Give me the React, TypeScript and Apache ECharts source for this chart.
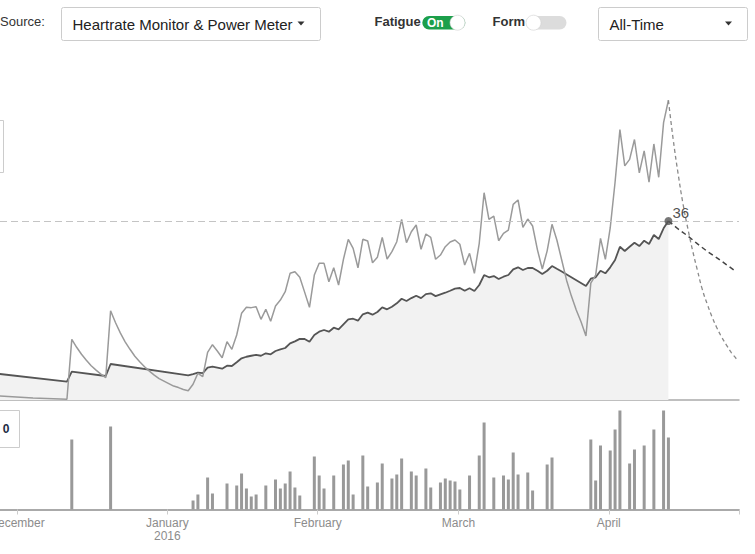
import React, { useEffect, useRef } from "react";
import * as echarts from "echarts";

// ---- data ----
const fitness: [string, number][] = [
  ["2015-11-27", 5.25], ["2015-12-11", 3.68], ["2015-12-12", 5.69], ["2015-12-19", 4.83],
  ["2015-12-20", 7.24], ["2016-01-05", 4.97], ["2016-01-06", 5.2], ["2016-01-07", 5.49],
  ["2016-01-08", 5.4], ["2016-01-09", 6.5], ["2016-01-10", 6.7], ["2016-01-11", 6.5],
  ["2016-01-12", 6.3], ["2016-01-13", 6.9], ["2016-01-14", 6.84], ["2016-01-15", 7.6],
  ["2016-01-16", 8.39], ["2016-01-17", 8.7], ["2016-01-18", 8.9], ["2016-01-19", 9.1],
  ["2016-01-20", 8.9], ["2016-01-21", 9.4], ["2016-01-22", 9.2], ["2016-01-23", 9.86],
  ["2016-01-24", 10.2], ["2016-01-25", 10.46], ["2016-01-26", 11.4], ["2016-01-27", 11.8],
  ["2016-01-28", 12.3], ["2016-01-29", 12.27], ["2016-01-30", 11.7], ["2016-01-31", 13.07],
  ["2016-02-01", 13.74], ["2016-02-02", 14.08], ["2016-02-03", 13.74], ["2016-02-04", 14.54],
  ["2016-02-05", 14.22], ["2016-02-06", 15.23], ["2016-02-07", 16.23], ["2016-02-08", 16.35],
  ["2016-02-09", 15.95], ["2016-02-10", 17.24], ["2016-02-11", 17.56], ["2016-02-12", 17.16],
  ["2016-02-13", 17.7], ["2016-02-14", 18.64], ["2016-02-15", 18.24], ["2016-02-16", 18.77],
  ["2016-02-17", 19.45], ["2016-02-18", 20.37], ["2016-02-19", 19.91], ["2016-02-20", 20.5],
  ["2016-02-21", 20.98], ["2016-02-22", 20.5], ["2016-02-23", 21.3], ["2016-02-24", 21.46],
  ["2016-02-25", 20.9], ["2016-02-26", 21.26], ["2016-02-27", 21.58], ["2016-02-28", 21.98],
  ["2016-02-29", 22.39], ["2016-03-01", 22.53], ["2016-03-02", 21.98], ["2016-03-03", 22.47],
  ["2016-03-04", 21.92], ["2016-03-05", 23.13], ["2016-03-06", 25.14], ["2016-03-07", 24.68],
  ["2016-03-08", 24.94], ["2016-03-09", 24.34], ["2016-03-10", 24.8], ["2016-03-11", 25.14],
  ["2016-03-12", 26.29], ["2016-03-13", 26.69], ["2016-03-14", 26.15], ["2016-03-15", 26.55],
  ["2016-03-16", 26.55], ["2016-03-17", 26.0], ["2016-03-18", 25.34], ["2016-03-19", 26.0],
  ["2016-03-20", 26.95], ["2016-03-21", 26.39], ["2016-03-22", 25.84], ["2016-03-27", 22.93],
  ["2016-03-28", 24.4], ["2016-03-29", 24.68], ["2016-03-30", 26.0], ["2016-03-31", 25.48],
  ["2016-04-01", 26.69], ["2016-04-02", 28.16], ["2016-04-03", 30.83], ["2016-04-04", 29.97],
  ["2016-04-05", 30.83], ["2016-04-06", 31.64], ["2016-04-07", 30.97], ["2016-04-08", 32.04],
  ["2016-04-09", 31.38], ["2016-04-10", 33.19], ["2016-04-11", 32.38], ["2016-04-12", 34.53],
  ["2016-04-13", 36.0],
];

const fatigue: [string, number][] = [
  ["2015-11-27", 0.8], ["2015-12-04", 0.4], ["2015-12-11", 0.14], ["2015-12-12", 12.2],
  ["2015-12-13", 10.6], ["2015-12-14", 9.2], ["2015-12-15", 8.0], ["2015-12-16", 6.9],
  ["2015-12-17", 6.0], ["2015-12-18", 5.2], ["2015-12-19", 4.49], ["2015-12-20", 17.96],
  ["2015-12-21", 15.6], ["2015-12-22", 13.5], ["2015-12-23", 11.7], ["2015-12-24", 10.2],
  ["2015-12-25", 8.8], ["2015-12-26", 7.7], ["2015-12-27", 6.7], ["2015-12-28", 5.8],
  ["2015-12-29", 5.0], ["2015-12-30", 4.3], ["2015-12-31", 3.8], ["2016-01-01", 3.3],
  ["2016-01-02", 2.8], ["2016-01-03", 2.5], ["2016-01-04", 2.1], ["2016-01-05", 1.85],
  ["2016-01-06", 3.16], ["2016-01-07", 5.37], ["2016-01-08", 4.69], ["2016-01-09", 9.59],
  ["2016-01-10", 11.12], ["2016-01-11", 9.86], ["2016-01-12", 8.51], ["2016-01-13", 11.73],
  ["2016-01-14", 10.2], ["2016-01-15", 13.07], ["2016-01-16", 17.44], ["2016-01-17", 18.64],
  ["2016-01-18", 18.58], ["2016-01-19", 18.77], ["2016-01-20", 16.23], ["2016-01-21", 18.24],
  ["2016-01-22", 15.83], ["2016-01-23", 18.9], ["2016-01-24", 20.11], ["2016-01-25", 21.78],
  ["2016-01-26", 25.48], ["2016-01-27", 25.8], ["2016-01-28", 24.68], ["2016-01-29", 21.7],
  ["2016-01-30", 18.64], ["2016-01-31", 25.14], ["2016-02-01", 27.49], ["2016-02-02", 27.49],
  ["2016-02-03", 23.79], ["2016-02-04", 26.6], ["2016-02-05", 23.13], ["2016-02-06", 28.3],
  ["2016-02-07", 32.32], ["2016-02-08", 30.51], ["2016-02-09", 26.6], ["2016-02-10", 32.32],
  ["2016-02-11", 31.98], ["2016-02-12", 27.61], ["2016-02-13", 28.7], ["2016-02-14", 32.72],
  ["2016-02-15", 28.36], ["2016-02-16", 29.83], ["2016-02-17", 31.84], ["2016-02-18", 36.34],
  ["2016-02-19", 31.64], ["2016-02-20", 33.85], ["2016-02-21", 35.2], ["2016-02-22", 30.31],
  ["2016-02-23", 33.39], ["2016-02-24", 32.72], ["2016-02-25", 28.3], ["2016-02-26", 29.16],
  ["2016-02-27", 30.83], ["2016-02-28", 31.78], ["2016-02-29", 32.18], ["2016-03-01", 31.32],
  ["2016-03-02", 27.15], ["2016-03-03", 29.5], ["2016-03-04", 25.48], ["2016-03-05", 31.52],
  ["2016-03-06", 41.69], ["2016-03-07", 36.34], ["2016-03-08", 37.0], ["2016-03-09", 32.04],
  ["2016-03-10", 33.53], ["2016-03-11", 34.19], ["2016-03-12", 39.36], ["2016-03-13", 40.23],
  ["2016-03-14", 34.73], ["2016-03-15", 36.4], ["2016-03-16", 35.0], ["2016-03-17", 30.2],
  ["2016-03-18", 26.35], ["2016-03-19", 30.0], ["2016-03-20", 35.34], ["2016-03-21", 32.18],
  ["2016-03-22", 28.16], ["2016-03-23", 24.1], ["2016-03-24", 20.9], ["2016-03-25", 18.1],
  ["2016-03-26", 15.7], ["2016-03-27", 12.87], ["2016-03-28", 23.5], ["2016-03-29", 25.1],
  ["2016-03-30", 32.5], ["2016-03-31", 28.3], ["2016-04-01", 34.6], ["2016-04-02", 43.8],
  ["2016-04-03", 54.4], ["2016-04-04", 47.1], ["2016-04-05", 48.4], ["2016-04-06", 52.4],
  ["2016-04-07", 45.7], ["2016-04-08", 50.1], ["2016-04-09", 43.8], ["2016-04-10", 51.5],
  ["2016-04-11", 44.8], ["2016-04-12", 55.8], ["2016-04-13", 60.3],
];

const fatigueProjection: [string, number][] = [
  ["2016-04-13", 60.3], ["2016-04-14", 52.3], ["2016-04-15", 45.5], ["2016-04-16", 39.5],
  ["2016-04-17", 34.5], ["2016-04-18", 30.0], ["2016-04-19", 26.0], ["2016-04-20", 22.2],
  ["2016-04-21", 19.3], ["2016-04-22", 16.7], ["2016-04-23", 14.5], ["2016-04-24", 12.6],
  ["2016-04-25", 11.0], ["2016-04-26", 9.5], ["2016-04-27", 8.3],
];

const fitnessProjection: [string, number][] = [
  ["2016-04-13", 36.0], ["2016-04-15", 34.4], ["2016-04-17", 33.0], ["2016-04-19", 31.4],
  ["2016-04-21", 29.9], ["2016-04-23", 28.6], ["2016-04-25", 27.2], ["2016-04-27", 25.8],
];

const trainingLoad: [string, number][] = [
  ["2015-12-12", 70], ["2015-12-20", 83], ["2016-01-06", 9], ["2016-01-07", 15],
  ["2016-01-09", 32], ["2016-01-10", 16], ["2016-01-13", 26], ["2016-01-15", 24],
  ["2016-01-16", 36], ["2016-01-17", 21], ["2016-01-18", 13], ["2016-01-19", 15],
  ["2016-01-21", 24], ["2016-01-23", 30], ["2016-01-24", 21], ["2016-01-25", 26],
  ["2016-01-26", 38], ["2016-01-27", 22], ["2016-01-28", 14], ["2016-01-31", 53],
  ["2016-02-01", 34], ["2016-02-02", 21], ["2016-02-04", 34], ["2016-02-06", 45],
  ["2016-02-07", 49], ["2016-02-08", 15], ["2016-02-10", 54], ["2016-02-11", 23],
  ["2016-02-13", 27], ["2016-02-14", 46], ["2016-02-16", 31], ["2016-02-17", 35],
  ["2016-02-18", 51], ["2016-02-20", 38], ["2016-02-21", 34], ["2016-02-23", 41],
  ["2016-02-24", 22], ["2016-02-26", 27], ["2016-02-27", 31], ["2016-02-28", 29],
  ["2016-02-29", 28], ["2016-03-01", 20], ["2016-03-03", 34], ["2016-03-05", 54],
  ["2016-03-06", 87], ["2016-03-08", 32], ["2016-03-10", 34], ["2016-03-11", 30],
  ["2016-03-12", 57], ["2016-03-13", 35], ["2016-03-15", 37], ["2016-03-16", 19],
  ["2016-03-19", 45], ["2016-03-20", 52], ["2016-03-28", 70], ["2016-03-29", 29],
  ["2016-03-30", 64], ["2016-04-01", 59], ["2016-04-02", 80], ["2016-04-03", 99],
  ["2016-04-05", 46], ["2016-04-06", 60], ["2016-04-08", 64], ["2016-04-10", 80],
  ["2016-04-12", 99], ["2016-04-13", 72],
];

const currentFitness: [string, number] = ["2016-04-13", 36];
const monthTicks = ["2015-12-01", "2016-01-01", "2016-02-01", "2016-03-01", "2016-04-01"];
const monthLabels = ["December", "January\n2016", "February", "March", "April"];
const sourceLabel = "Heartrate Monitor & Power Meter";
const rangeLabel = "All-Time";

const toTime = (s: string) => {
  const [y, m, d] = s.split("-").map(Number);
  return new Date(y, m - 1, d).getTime();
};
const toPoints = (arr: [string, number][]) => arr.map(([d, v]) => [toTime(d), v]);

const FONT = "'Liberation Sans', Arial, Helvetica, sans-serif";

export default function App() {
  const ref = useRef<HTMLDivElement>(null);

  useEffect(() => {
    if (!ref.current) return;
    const chart = echarts.init(ref.current, undefined, { renderer: "svg" });
    const DAY = 86400000;
    const base = toTime("2015-12-01");
    const xMin = base - 3.5 * DAY;
    const xMax = base + 148.85 * DAY;
    const tickValues = monthTicks.map(toTime);
    const labelFor = (v: number) => {
      let best = -1;
      let bestD = Infinity;
      tickValues.forEach((t, i) => {
        const d = Math.abs(t - v);
        if (d < bestD) { bestD = d; best = i; }
      });
      return best >= 0 && bestD < DAY ? monthLabels[best] : "";
    };
    // data points sit a little after midnight in the reference
    const shift = 0.3 * DAY;
    const pts = (arr: [string, number][]) => toPoints(arr).map(([t, v]) => [t + shift, v]);

    const caret = (cx: number) => ({
      type: "polygon",
      shape: { points: [[cx - 3.5, 21.5], [cx + 3.5, 21.5], [cx, 25.5]] },
      style: { fill: "#333" },
      z: 100,
    });
    const txt = (text: string, x: number, y: number, font: string, fill = "#333") => ({
      type: "text",
      x,
      y,
      style: { text, font, fill, align: "left", verticalAlign: "middle" },
      z: 100,
    });

    chart.setOption({
      animation: false,
      backgroundColor: "#fff",
      textStyle: { fontFamily: FONT },
      grid: [
        { left: 0, right: 16, top: 52, bottom: 154, outerBoundsMode: "none", containLabel: false },
        { left: 0, right: 16, top: 409.5, bottom: 44.5, outerBoundsMode: "none", containLabel: false },
      ],
      xAxis: [
        {
          type: "value",
          gridIndex: 0,
          min: xMin,
          max: xMax,
          axisLine: { show: true, lineStyle: { color: "#aaa", width: 1.5 } },
          axisTick: { show: false },
          axisLabel: { show: false },
          splitLine: { show: false },
        },
        {
          type: "value",
          gridIndex: 1,
          min: xMin,
          max: xMax,
          axisLine: { show: true, lineStyle: { color: "#aaa", width: 2 } },
          axisTick: {
            show: true,
            length: 5,
            customValues: [...tickValues, xMax],
            lineStyle: { color: "#ccc", width: 1 },
          },
          axisLabel: {
            show: true,
            customValues: tickValues,
            formatter: (v: number) => labelFor(v),
            color: "#8c8c8c",
            fontSize: 12,
            lineHeight: 13,
            margin: 7,
            fontFamily: FONT,
            hideOverlap: false,
          },
          splitLine: { show: false },
        },
      ],
      yAxis: [
        { type: "value", gridIndex: 0, min: 0, max: 70, show: false, splitLine: { show: false } },
        { type: "value", gridIndex: 1, min: 0, max: 100, show: false, splitLine: { show: false } },
      ],
      series: [
        {
          name: "Fitness",
          type: "line",
          xAxisIndex: 0,
          yAxisIndex: 0,
          data: pts(fitness),
          symbol: "none",
          lineStyle: { color: "#555", width: 1.8 },
          areaStyle: { color: "#f2f2f2", opacity: 1 },
          z: 2,
          markLine: {
            silent: true,
            symbol: ["none", "none"],
            label: { show: false },
            lineStyle: { color: "#c4c4c4", type: [7, 4], width: 1 },
            data: [{ yAxis: currentFitness[1] }],
          },
        },
        {
          name: "Fatigue",
          type: "line",
          xAxisIndex: 0,
          yAxisIndex: 0,
          data: pts(fatigue),
          symbol: "none",
          lineStyle: { color: "#9a9a9a", width: 1.5 },
          z: 3,
        },
        {
          name: "Fatigue projection",
          type: "line",
          xAxisIndex: 0,
          yAxisIndex: 0,
          data: pts(fatigueProjection),
          symbol: "none",
          smooth: true,
          lineStyle: { color: "#8a8a8a", width: 1.3, type: [4, 3] },
          z: 3,
        },
        {
          name: "Fitness projection",
          type: "line",
          xAxisIndex: 0,
          yAxisIndex: 0,
          data: pts(fitnessProjection),
          symbol: "none",
          lineStyle: { color: "#444", width: 1.5, type: [5, 3.5] },
          z: 3,
        },
        {
          name: "Current",
          type: "scatter",
          xAxisIndex: 0,
          yAxisIndex: 0,
          data: pts([currentFitness]),
          symbolSize: 8,
          itemStyle: { color: "#555" },
          label: {
            show: true,
            position: "right",
            distance: 0,
            offset: [0, -9],
            formatter: (p: any) => String(p.value[1]),
            color: "#222",
            fontSize: 15,
            fontFamily: FONT,
          },
          z: 5,
        },
        {
          name: "Training load",
          type: "custom",
          xAxisIndex: 1,
          yAxisIndex: 1,
          data: pts(trainingLoad),
          encode: { x: 0, y: 1 },
          renderItem: (_params: any, api: any) => {
            const top = api.coord([api.value(0), api.value(1)]);
            const bottom = api.coord([api.value(0), 0]);
            return {
              type: "rect",
              shape: { x: top[0] - 1.5, y: top[1], width: 3, height: bottom[1] - top[1] },
              style: { fill: "#999" },
            };
          },
          z: 2,
        },
      ],
      graphic: [
        txt("Source:", 0, 21.5, `13px ${FONT}`),
        {
          type: "rect",
          shape: { x: 61.5, y: 7.5, width: 259, height: 33, r: 2 },
          style: { fill: "#fff", stroke: "#ccc", lineWidth: 1 },
          z: 99,
        },
        txt(sourceLabel, 72.5, 24, `15px ${FONT}`, "#222"),
        caret(301),
        txt("Fatigue", 374.5, 21.5, `bold 13px ${FONT}`),
        {
          type: "rect",
          shape: { x: 422.3, y: 16, width: 43, height: 13.5, r: 6.75 },
          style: { fill: "#1c9f4b" },
          z: 99,
        },
        txt("On", 427, 22.8, `bold 12px ${FONT}`, "#fff"),
        {
          type: "circle",
          shape: { cx: 457.5, cy: 22.7, r: 7.5 },
          style: { fill: "#fff", stroke: "#d0d0d0", lineWidth: 0.6 },
          z: 101,
        },
        txt("Form", 492.5, 21.5, `bold 13px ${FONT}`),
        {
          type: "rect",
          shape: { x: 526, y: 16, width: 40.5, height: 13.5, r: 6.75 },
          style: { fill: "#dcdcdc" },
          z: 99,
        },
        {
          type: "circle",
          shape: { cx: 533.5, cy: 22.7, r: 7.5 },
          style: { fill: "#fff", stroke: "#d0d0d0", lineWidth: 0.6 },
          z: 101,
        },
        {
          type: "rect",
          shape: { x: 598.5, y: 7.5, width: 149, height: 33, r: 2 },
          style: { fill: "#fff", stroke: "#ccc", lineWidth: 1 },
          z: 99,
        },
        txt(rangeLabel, 609.5, 24, `15px ${FONT}`, "#222"),
        caret(728.5),
        {
          type: "rect",
          shape: { x: -20, y: 120.5, width: 23.5, height: 52 },
          style: { fill: "#fff", stroke: "#ccc", lineWidth: 1 },
          z: 99,
        },
        {
          type: "rect",
          shape: { x: -20, y: 410.5, width: 39.5, height: 37 },
          style: { fill: "#fff", stroke: "#ccc", lineWidth: 1 },
          z: 99,
        },
        {
          type: "text",
          x: 6,
          y: 429,
          style: { text: "0", font: `bold 12px ${FONT}`, fill: "#1d2b44", align: "center", verticalAlign: "middle" },
          z: 100,
        },
      ],
    });
    return () => chart.dispose();
  }, []);

  return (
    <div
      ref={ref}
      style={{ position: "absolute", left: 0, top: 0, width: 755, height: 554, background: "#fff" }}
    />
  );
}
